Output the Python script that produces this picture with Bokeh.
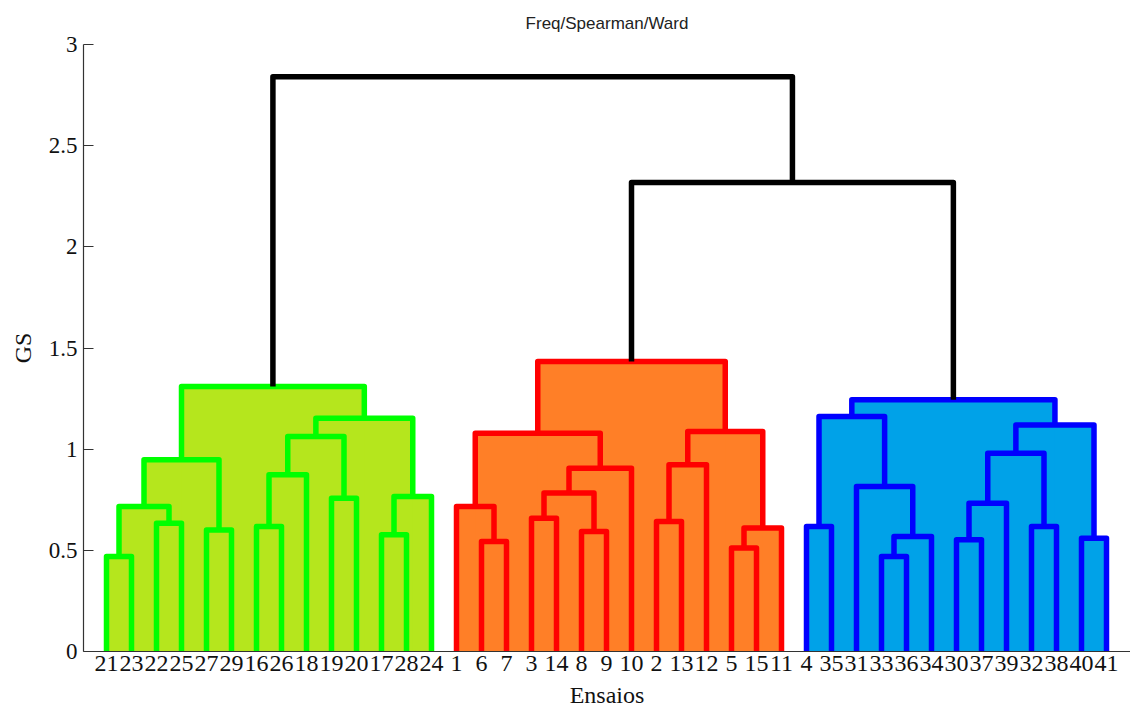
from bokeh.plotting import figure
from bokeh.models import Range1d, FixedTicker, ColumnDataSource
from bokeh.embed import file_html
from bokeh.resources import INLINE

# ---------------- data ----------------
leaf_order = [21, 23, 22, 25, 27, 29, 16, 26, 18, 19, 20, 17, 28, 24,
              1, 6, 7, 3, 14, 8, 9, 10, 2, 13, 12, 5, 15, 11,
              4, 35, 31, 33, 36, 34, 30, 37, 39, 32, 38, 40, 41]

# merges: (node name, left child, right child, height)
green_merges = [
    ("g1", 21, 23, 0.47), ("g2", 22, 25, 0.634), ("g3", "g1", "g2", 0.717),
    ("g4", 27, 29, 0.60), ("g5", "g3", "g4", 0.948), ("g6", 16, 26, 0.618),
    ("g7", "g6", 18, 0.873), ("g8", 19, 20, 0.758), ("g9", "g7", "g8", 1.063),
    ("g10", 17, 28, 0.577), ("g11", "g10", 24, 0.766), ("g12", "g9", "g11", 1.153),
    ("g13", "g5", "g12", 1.31),
]
red_merges = [
    ("r1", 6, 7, 0.544), ("r2", 1, "r1", 0.717), ("r3", 3, 14, 0.659),
    ("r4", 8, 9, 0.593), ("r5", "r3", "r4", 0.783), ("r6", "r5", 10, 0.906),
    ("r7", "r2", "r6", 1.079), ("r8", 2, 13, 0.643), ("r9", "r8", 12, 0.923),
    ("r10", 5, 15, 0.511), ("r11", "r10", 11, 0.61), ("r12", "r9", "r11", 1.087),
    ("r13", "r7", "r12", 1.433),
]
blue_merges = [
    ("b1", 4, 35, 0.618), ("b2", 33, 36, 0.47), ("b3", "b2", 34, 0.568),
    ("b4", 31, "b3", 0.816), ("b5", "b1", "b4", 1.162), ("b6", 30, 37, 0.552),
    ("b7", "b6", 39, 0.733), ("b8", 32, 38, 0.618), ("b9", "b7", "b8", 0.98),
    ("b10", 40, 41, 0.56), ("b11", "b9", "b10", 1.12), ("b12", "b5", "b11", 1.244),
]
top_merges = [
    ("t1", "r13", "b12", 2.318), ("t2", "g13", "t1", 2.84),
]

cluster_line_colors = {"green": "#00FF00", "red": "#FF0000", "blue": "#0000FF", "top": "#000000"}
cluster_fill_colors = {"green": "#B5E61D", "red": "#FF7F27", "blue": "#00A2E8"}

title_text = "Freq/Spearman/Ward"
x_label = "Ensaios"
y_label = "GS"
y_ticks = [0, 0.5, 1, 1.5, 2, 2.5, 3]

# ---------------- layout of tree ----------------
pos = {leaf: i + 1 for i, leaf in enumerate(leaf_order)}
hgt = {leaf: 0.0 for leaf in leaf_order}

groups = [("green", green_merges), ("red", red_merges), ("blue", blue_merges), ("top", top_merges)]

lines = {k: {"xs": [], "ys": []} for k, _ in groups}
quads = {k: {"left": [], "right": [], "top": []} for k, _ in groups if k != "top"}

for key, merges in groups:
    for name, a, b, h in merges:
        xa, xb = pos[a], pos[b]
        lines[key]["xs"].append([xa, xa, xb, xb])
        lines[key]["ys"].append([hgt[a], h, h, hgt[b]])
        if key != "top":
            quads[key]["left"].append(xa)
            quads[key]["right"].append(xb)
            quads[key]["top"].append(h)
        pos[name] = (xa + xb) / 2.0
        hgt[name] = h

# ---------------- figure ----------------
p = figure(frame_width=1047, frame_height=607, output_backend="svg", toolbar_location=None,
           x_range=Range1d(0.08, 41.96), y_range=Range1d(0, 3),
           min_border_left=83, min_border_right=0, min_border_top=43, min_border_bottom=10,
           title=title_text)
p.outline_line_color = None
p.grid.visible = False
p.background_fill_color = "white"
p.border_fill_color = "white"

p.title.align = "center"
p.title.text_font = "Liberation Sans"
p.title.text_font_size = "17px"
p.title.text_font_style = "normal"
p.title.text_color = "#222222"
p.title.standoff = 23
p.title.offset = 4

for key in ["green", "red", "blue"]:
    src = ColumnDataSource(dict(left=quads[key]["left"], right=quads[key]["right"],
                                top=quads[key]["top"], bottom=[0] * len(quads[key]["top"])))
    p.quad(left="left", right="right", top="top", bottom="bottom", source=src,
           fill_color=cluster_fill_colors[key], line_color=None)

for key, _ in groups:
    p.multi_line(xs=lines[key]["xs"], ys=lines[key]["ys"], line_color=cluster_line_colors[key],
                 line_width=5.5, line_join="round", line_cap="butt")

# axes
p.xaxis.ticker = FixedTicker(ticks=list(range(1, len(leaf_order) + 1)))
p.xaxis.major_label_overrides = {i + 1: str(l) for i, l in enumerate(leaf_order)}
p.xaxis.major_tick_in = 0
p.xaxis.major_tick_out = 0
p.xaxis.minor_tick_line_color = None
p.xaxis.major_label_standoff = 4
p.xaxis.axis_label = x_label
p.xaxis.axis_label_standoff = 8

p.yaxis.ticker = FixedTicker(ticks=y_ticks)
p.yaxis.major_label_overrides = {0: "0", 0.5: "0.5", 1: "1", 1.5: "1.5", 2: "2", 2.5: "2.5", 3: "3"}
p.yaxis.major_tick_in = 10
p.yaxis.major_tick_out = 0
p.yaxis.minor_tick_line_color = None
p.yaxis.major_label_standoff = 6
p.yaxis.axis_label = y_label
p.yaxis.axis_label_standoff = 10

for ax in [p.xaxis, p.yaxis]:
    ax.axis_line_color = "#333333"
    ax.axis_line_width = 1.2
    ax.major_tick_line_color = "#333333"
    ax.major_label_text_font = "Liberation Serif"
    ax.major_label_text_color = "#111111"
    ax.axis_label_text_font = "Liberation Serif"
    ax.axis_label_text_font_size = "24px"
    ax.axis_label_text_font_style = "normal"
    ax.axis_label_text_color = "#111111"
p.xaxis.major_label_text_font_size = "24px"
p.yaxis.major_label_text_font_size = "23px"

open("out.html", "w").write(file_html(p, INLINE))
